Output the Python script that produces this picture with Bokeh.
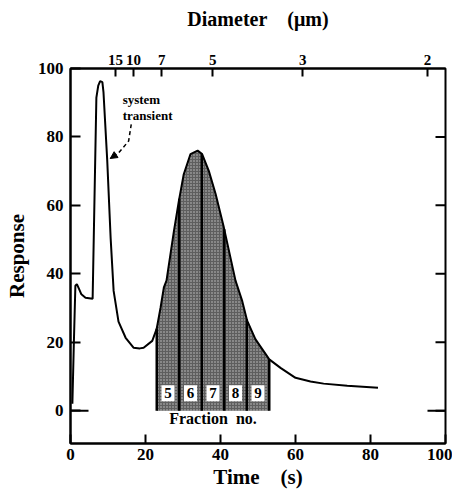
import numpy as np
from bokeh.plotting import figure
from bokeh.models import LinearAxis, FixedTicker, Range1d, Arrow, NormalHead
from bokeh.core.properties import value
from bokeh.embed import file_html
from bokeh.resources import INLINE

# ---------------- data ----------------
time_s = [0.5, 0.9, 1.3, 1.7, 2.3, 2.9, 4.0, 5.9, 6.9, 7.4, 7.9, 8.5, 8.8,
          9.8, 10.7, 11.5, 12.8, 14.7, 16.8, 18.5, 19.5, 21.8, 23.0, 24.0,
          24.9, 25.6, 27.6, 28.9, 30.2, 32.0, 33.9, 35.1, 36.9, 38.7, 40.9,
          44.0, 45.8, 47.1, 49.3, 53.0, 56.0, 60.0, 64.0, 67.5, 73.8, 82.0]
response = [2.0, 20.0, 36.5, 37.0, 35.5, 34.0, 33.0, 32.7, 91.5, 95.0, 96.3,
            96.0, 93.0, 73.0, 50.5, 35.0, 26.0, 21.3, 18.4, 18.2, 18.4, 20.4,
            24.0, 30.0, 36.0, 38.0, 52.6, 61.3, 69.1, 75.0, 76.0, 75.0, 70.0,
            63.3, 53.5, 38.0, 32.0, 26.3, 20.9, 15.0, 12.5, 9.6, 8.5, 7.9,
            7.3, 6.7]

fraction_bounds = [23, 29, 35, 41, 47, 53]
fraction_labels = ["5", "6", "7", "8", "9"]

time_ticks = [0, 20, 40, 60, 80, 100]
time_tick_labels = ["0", "20", "40", "60", "80", "100"]
resp_ticks = [0, 20, 40, 60, 80, 100]
resp_tick_labels = ["0", "20", "40", "60", "80", "100"]

diam_tick_pos = [12.0, 16.8, 24.3, 37.9, 61.9, 95.2]
diam_tick_labels = ["15", "10", "7", "5", "3", "2"]

arrow_x = [16.2, 15.5, 12.8, 10.6]
arrow_y = [83.7, 78.8, 75.3, 73.7]

FONT = "Liberation Serif"

t = np.array(time_s)
r = np.array(response)

p = figure(width=452, height=493, x_range=Range1d(0, 100),
           y_range=Range1d(-9.6, 100), output_backend="svg",
           toolbar_location=None, min_border_left=70, min_border_right=7,
           min_border_top=68, min_border_bottom=50)
p.background_fill_color = "white"
p.border_fill_color = "white"
p.outline_line_color = "black"
p.outline_line_width = 2
p.xgrid.visible = False
p.ygrid.visible = False

def style_axis(ax, tick_in):
    ax.axis_line_color = "black"
    ax.axis_line_width = 2
    ax.major_tick_in = tick_in
    ax.major_tick_out = 0
    ax.major_tick_line_width = 2
    ax.major_tick_line_color = "black"
    ax.minor_tick_line_color = None
    ax.major_label_text_font = FONT
    ax.major_label_text_font_style = "bold"
    ax.major_label_text_font_size = "17px"
    ax.major_label_text_color = "black"
    ax.axis_label_text_font = FONT
    ax.axis_label_text_font_style = "bold"
    ax.axis_label_text_font_size = "21px"
    ax.axis_label_text_color = "black"

# bottom axis
xa = p.xaxis[0]
style_axis(xa, 9)
xa.ticker = FixedTicker(ticks=time_ticks)
xa.major_label_overrides = dict(zip(time_ticks, time_tick_labels))
xa.major_label_standoff = 5
xa.axis_label = "Time\u2003(s)"
xa.axis_label_standoff = 2

# left axis
ya = p.yaxis[0]
style_axis(ya, 10)
ya.ticker = FixedTicker(ticks=resp_ticks)
ya.major_label_overrides = dict(zip(resp_ticks, resp_tick_labels))
ya.major_label_standoff = 7
ya.axis_label = "Response"
ya.axis_label_standoff = 6

# top axis (diameter)
ta = LinearAxis(ticker=FixedTicker(ticks=diam_tick_pos),
                major_label_overrides=dict(zip(diam_tick_pos, diam_tick_labels)))
style_axis(ta, 8)
ta.major_label_text_font_size = "15px"
ta.major_label_standoff = 4
ta.axis_label = "Diameter\u2003(\u03bcm)"
ta.axis_label_text_font_size = "20px"
ta.axis_label_standoff = 22
p.add_layout(ta, "above")

# inward ticks on the right-hand frame edge
tick_len = 10 / 3.75
p.segment(x0=np.full(len(resp_ticks) - 1, 100 - tick_len),
          y0=resp_ticks[:-1], x1=np.full(len(resp_ticks) - 1, 100),
          y1=resp_ticks[:-1], line_color="black", line_width=2)

# longer baseline ticks at zero
p.segment(x0=[0, 95.2], y0=[0, 0], x1=[4.8, 100], y1=[0, 0],
          line_color="black", line_width=2)

# shaded fractions
mask = (t >= fraction_bounds[0]) & (t <= fraction_bounds[-1])
p.varea(x=t[mask], y1=np.zeros(mask.sum()), y2=r[mask],
        fill_color="#5e5e5e", hatch_pattern="dot", hatch_color="#c8c8c8",
        hatch_scale=3, hatch_weight=0.6)

bounds = np.array(fraction_bounds, dtype=float)
p.segment(x0=bounds, y0=np.zeros(len(bounds)), x1=bounds,
          y1=np.interp(bounds, t, r), line_color="black", line_width=2.5)

# curve
p.line(t, r, line_color="black", line_width=2)

# fraction number boxes
mids = (bounds[:-1] + bounds[1:]) / 2
p.rect(x=mids, y=np.full(len(mids), 5.1), width=13, height=16,
       width_units="screen", height_units="screen",
       fill_color="white", line_color=None)
p.text(x=mids, y=np.full(len(mids), 5.1), text=fraction_labels,
       text_align="center", text_baseline="middle",
       text_font=value(FONT), text_font_style="bold",
       text_font_size="15px", text_color="black")
p.text(x=[mids.mean()], y=[-2.4], text=["Fraction\u2002no."],
       text_align="center", text_baseline="middle",
       text_font=value(FONT), text_font_style="bold",
       text_font_size="16px", text_color="black")

# system transient annotation
p.text(x=[13.9, 13.9], y=[90.8, 86.4], text=["system", "transient"],
       text_align="left", text_baseline="middle",
       text_font=value(FONT), text_font_style="bold",
       text_font_size="13px", text_color="black")
p.line(arrow_x, arrow_y, line_color="black", line_width=1.5,
       line_dash="4 3")
p.add_layout(Arrow(end=NormalHead(size=7, fill_color="black",
                                  line_color="black"),
                   x_start=arrow_x[-2], y_start=arrow_y[-2],
                   x_end=arrow_x[-1], y_end=arrow_y[-1],
                   line_alpha=0))

open("out.html", "w").write(file_html(p, INLINE))
